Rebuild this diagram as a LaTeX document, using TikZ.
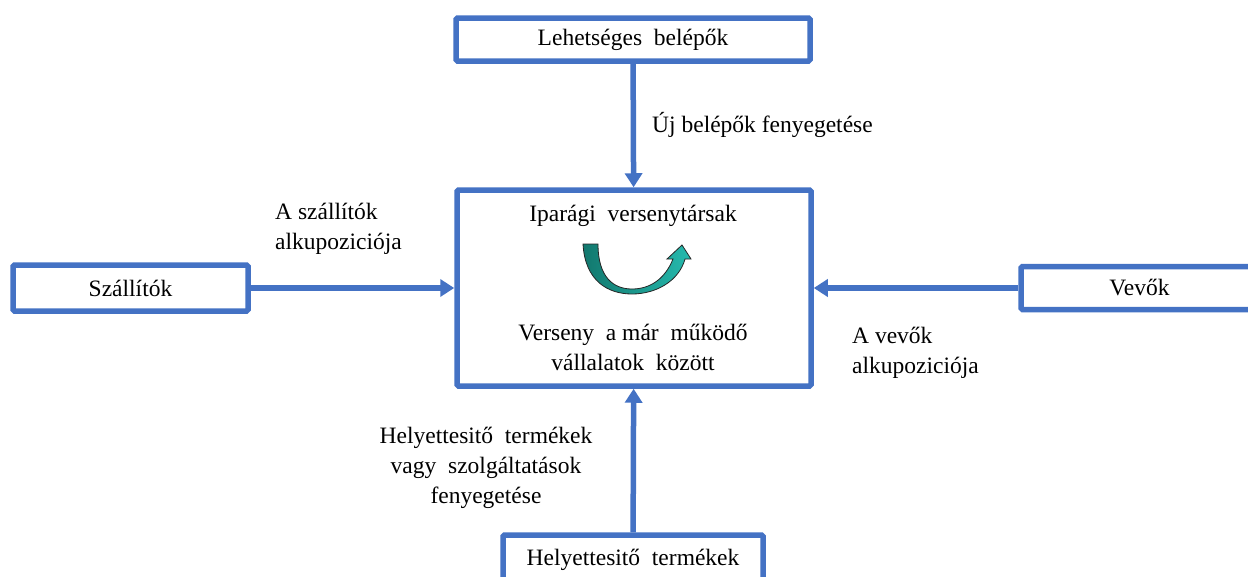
\documentclass[tikz,border=0pt]{standalone}
\usepackage{fontspec}
\setmainfont{Liberation Serif}
\usetikzlibrary{arrows.meta}
\definecolor{boxblue}{RGB}{68,114,196}
\definecolor{tealdark}{RGB}{18,120,110}
\definecolor{teallight}{RGB}{38,186,174}
\begin{document}
\begin{tikzpicture}[x=1pt,y=-1pt,
  every node/.style={font=\fontsize{23.5}{30}\selectfont},
  forcebox/.style={draw=boxblue,line width=5.5pt,rounded corners=1.5pt,inner sep=0pt,fill=white},
  flow/.style={draw=boxblue,line width=5.5pt,-{Triangle[length=14pt,width=17pt]}},
  lbl/.style={inner sep=0pt,align=left}]
\useasboundingbox (0,0) rectangle (1248,576);
\clip (0,0) rectangle (1248,576);

% the five forces
\node[forcebox,minimum width=354pt,minimum height=43pt] (entrants) at (633,39.5) {Lehetséges\ \ belépők};
\node[forcebox,minimum width=354pt,minimum height=196pt] (rivals) at (634,288) {};
\node[forcebox,minimum width=235pt,minimum height=46pt] (suppliers) at (130.5,288) {Szállítók};
\node[forcebox,minimum width=237pt,minimum height=43pt] (buyers) at (1139.5,288) {Vevők};
\node[forcebox,minimum width=260pt,minimum height=50pt] (substitutes) at (633,560) {Helyettesitő\ \ termékek};

% text inside the central box
\node[inner sep=0pt] (rivtitle) at (633,216) {Iparági\ \ versenytársak};
\node[inner sep=0pt,align=center] (rivtext) at (633,347) {Verseny\ \ a már\ \ működő\\vállalatok\ \ között};

% rotating arrow in the central box
\draw[draw=black!85,line width=0.8pt,left color=tealdark,right color=teallight]
  (583,244) .. controls (585,281) and (608,294) .. (632,294)
  .. controls (656,294) and (679,281) .. (685,259)
  -- (691,259) -- (682,245) -- (667,259) -- (673,259)
  .. controls (665,279) and (650,289) .. (632,289)
  .. controls (614,289) and (598,278) .. (598,244) -- cycle;

% connectors
\draw[flow] (entrants) -- (rivals);
\draw[flow] (suppliers) -- (rivals);
\draw[flow] (buyers) -- (rivals);
\draw[flow] (substitutes) -- (rivals);

% connector labels
\node[lbl,anchor=west] (lnew) at (652,125) {Új belépők fenyegetése};
\node[lbl,anchor=north west] (lsup) at (275,203) {A szállítók\\alkupoziciója};
\node[lbl,anchor=north west] (lbuy) at (852,327) {A vevők\\alkupoziciója};
\node[lbl,align=center,anchor=north] (lsub) at (486,427) {Helyettesitő\ \ termékek\\vagy\ \ szolgáltatások\\fenyegetése};
\end{tikzpicture}
\end{document}
